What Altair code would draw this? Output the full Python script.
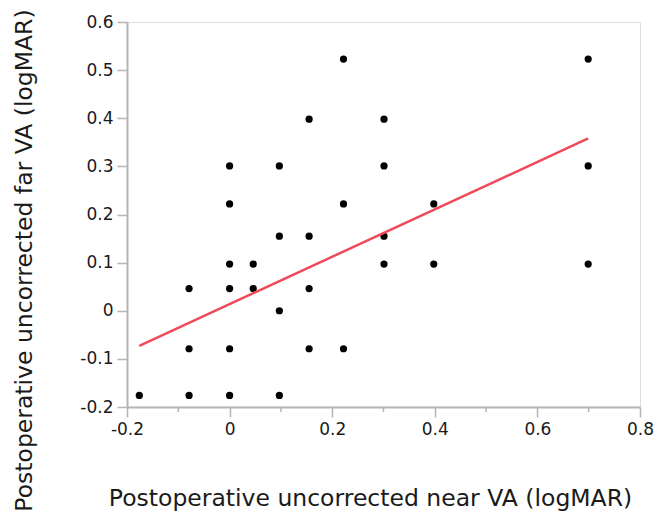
import altair as alt
import pandas as pd

near_va = [-0.176, -0.079, -0.079, -0.079,
           0.0, 0.0, 0.0, 0.0, 0.0, 0.0,
           0.046, 0.046,
           0.097, 0.097, 0.097, 0.097,
           0.155, 0.155, 0.155, 0.155,
           0.222, 0.222, 0.222,
           0.301, 0.301, 0.301, 0.301,
           0.398, 0.398,
           0.699, 0.699, 0.699]
far_va = [-0.176, -0.176, -0.079, 0.046,
          -0.176, -0.079, 0.046, 0.097, 0.222, 0.301,
          0.097, 0.046,
          -0.176, 0.0, 0.155, 0.301,
          -0.079, 0.046, 0.155, 0.398,
          -0.079, 0.222, 0.523,
          0.097, 0.155, 0.301, 0.398,
          0.097, 0.222,
          0.097, 0.301, 0.523]

fit_x = [-0.176, 0.699]
fit_y = [-0.073, 0.358]

x_ticks = [-0.2, 0, 0.2, 0.4, 0.6, 0.8]
x_minor = [-0.1, 0.1, 0.3, 0.5, 0.7]
y_ticks = [-0.2, -0.1, 0, 0.1, 0.2, 0.3, 0.4, 0.5, 0.6]

pts = pd.DataFrame({"near": near_va, "far": far_va})
fit = pd.DataFrame({"near": fit_x, "far": fit_y})
minor = pd.DataFrame({"near": x_minor})

FONT = "DejaVu Sans"
TXT = "#1a1a1a"
FRAME = "#b4b4b4"

xscale = alt.Scale(domain=[-0.2, 0.8], nice=False, zero=False)
yscale = alt.Scale(domain=[-0.2, 0.6], nice=False, zero=False)

LBL = "'' + datum.value"

xaxis = alt.Axis(
    values=x_ticks, labelExpr=LBL,
    title="Postoperative uncorrected near VA (logMAR)",
    titleFont=FONT, titleFontSize=23.5, titleFontWeight="normal", titleColor=TXT,
    titleX=243, titleY=98, titleBaseline="alphabetic", titleAnchor="middle",
    labelFont=FONT, labelFontSize=17, labelColor=TXT, labelPadding=4,
    tickSize=10, tickColor=FRAME, domainColor=FRAME, domainWidth=2, tickWidth=1.5,
    grid=False, labelFlush=False, labelOverlap=False,
)
yaxis = alt.Axis(
    values=y_ticks, labelExpr=LBL,
    title="Postoperative uncorrected far VA (logMAR)",
    titleFont=FONT, titleFontSize=23.5, titleFontWeight="normal", titleColor=TXT,
    titleX=-103, titleY=238, titleAngle=-90, titleBaseline="middle", titleAnchor="middle",
    labelFont=FONT, labelFontSize=17, labelColor=TXT, labelPadding=4,
    tickSize=10, tickColor=FRAME, domainColor=FRAME, domainWidth=2, tickWidth=1.5,
    grid=False, labelFlush=False, labelOverlap=False,
)

points = alt.Chart(pts).mark_circle(size=52, color="black", opacity=1).encode(
    x=alt.X("near:Q", scale=xscale, axis=xaxis),
    y=alt.Y("far:Q", scale=yscale, axis=yaxis),
)

line = alt.Chart(fit).mark_line(color="#f04a5a", strokeWidth=2.5).encode(
    x=alt.X("near:Q", scale=xscale, axis=xaxis),
    y=alt.Y("far:Q", scale=yscale, axis=yaxis),
)

# minor ticks on x axis
minor_ticks = alt.Chart(minor).mark_rule(color=FRAME, strokeWidth=1.5).encode(
    x=alt.X("near:Q", scale=xscale, axis=xaxis),
    y=alt.value(385), y2=alt.value(390),
)

chart = alt.layer(points, line, minor_ticks).properties(
    width=513, height=385,
    autosize=alt.AutoSizeParams(type="none"),
    padding={"left": 119, "top": 14, "right": 16, "bottom": 108},
).configure_view(stroke=FRAME, strokeWidth=2).configure(background="white")

chart.save("out.html", embed_options={"renderer": "svg", "actions": False})
